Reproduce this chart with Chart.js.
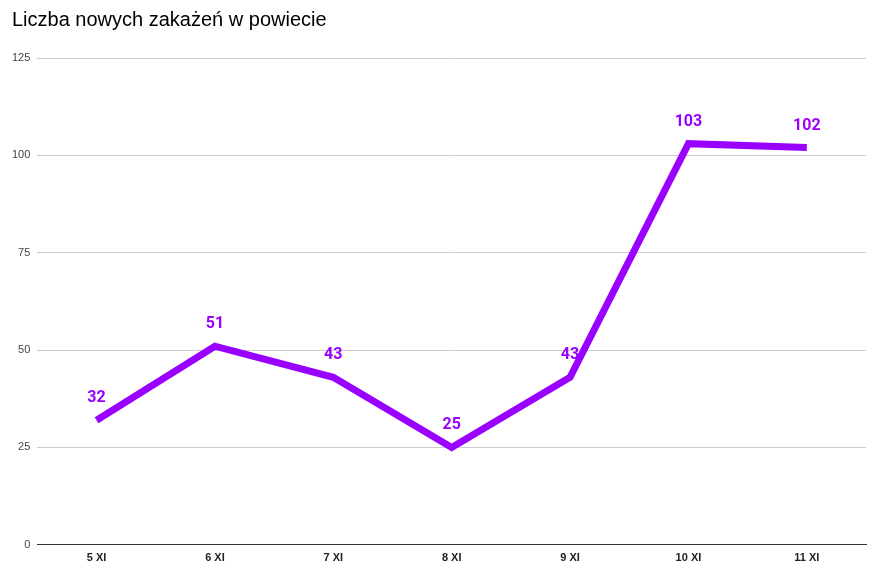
<!DOCTYPE html>
<html>
<head>
<meta charset="utf-8">
<script src="https://cdn.jsdelivr.net/npm/chart.js@4"></script>
<style>
    body { margin: 0; background: #fff; }
    #wrap { width: 882px; height: 572px; }
</style>
</head>
<body>
<div id="wrap"><canvas id="casesChart" width="882" height="572"></canvas></div>
<script>
// Data
const chartTitle = 'Liczba nowych zakażeń w powiecie';
const days = ['5 XI', '6 XI', '7 XI', '8 XI', '9 XI', '10 XI', '11 XI'];
const newCases = [32, 51, 43, 25, 43, 103, 102];
const yTicks = [0, 25, 50, 75, 100, 125];

const lineColor = '#9900ff';

// Title at the top-left corner, independent of the axis padding
const titleText = {
    id: 'titleText',
    afterDraw(chart) {
        const ctx = chart.ctx;
        ctx.save();
        ctx.font = '20px Arial';
        ctx.fillStyle = '#000';
        ctx.textAlign = 'left';
        ctx.textBaseline = 'middle';
        ctx.fillText(chartTitle, 12, 20);
        ctx.restore();
    }
};

// Draws the value above each point (no datalabels plugin available)
const valueLabels = {
    id: 'valueLabels',
    afterDatasetsDraw(chart) {
        const ctx = chart.ctx;
        const meta = chart.getDatasetMeta(0);
        ctx.save();
        ctx.font = 'bold 16px Roboto';
        ctx.fillStyle = lineColor;
        ctx.textAlign = 'center';
        ctx.textBaseline = 'middle';
        meta.data.forEach((pt, i) => {
            ctx.fillText(String(newCases[i]), pt.x, pt.y - 22);
        });
        ctx.restore();
    }
};

new Chart(document.getElementById('casesChart'), {
    type: 'line',
    data: {
        labels: days,
        datasets: [{
            data: newCases,
            borderColor: lineColor,
            borderWidth: 7,
            pointRadius: 0,
            tension: 0,
            fill: false
        }]
    },
    options: {
        responsive: false,
        animation: false,
        layout: { padding: { left: 5, right: 16, top: 58, bottom: 0 } },
        plugins: {
            legend: { display: false },
            tooltip: { enabled: false },
            title: { display: false }
        },
        scales: {
            x: {
                offset: true,
                grid: { display: false, drawTicks: false },
                border: { color: '#333', width: 1 },
                ticks: {
                    color: '#222',
                    font: { family: 'Arial', size: 11, weight: 'bold' },
                    padding: 7
                }
            },
            y: {
                min: 0,
                max: 125,
                afterBuildTicks(axis) {
                    axis.ticks = yTicks.map(v => ({ value: v }));
                },
                grid: { color: '#cccccc', drawTicks: false },
                border: { display: false },
                ticks: {
                    color: '#444',
                    font: { family: 'Arial', size: 11 },
                    padding: 7
                }
            }
        }
    },
    plugins: [valueLabels, titleText]
});
</script>
</body>
</html>
